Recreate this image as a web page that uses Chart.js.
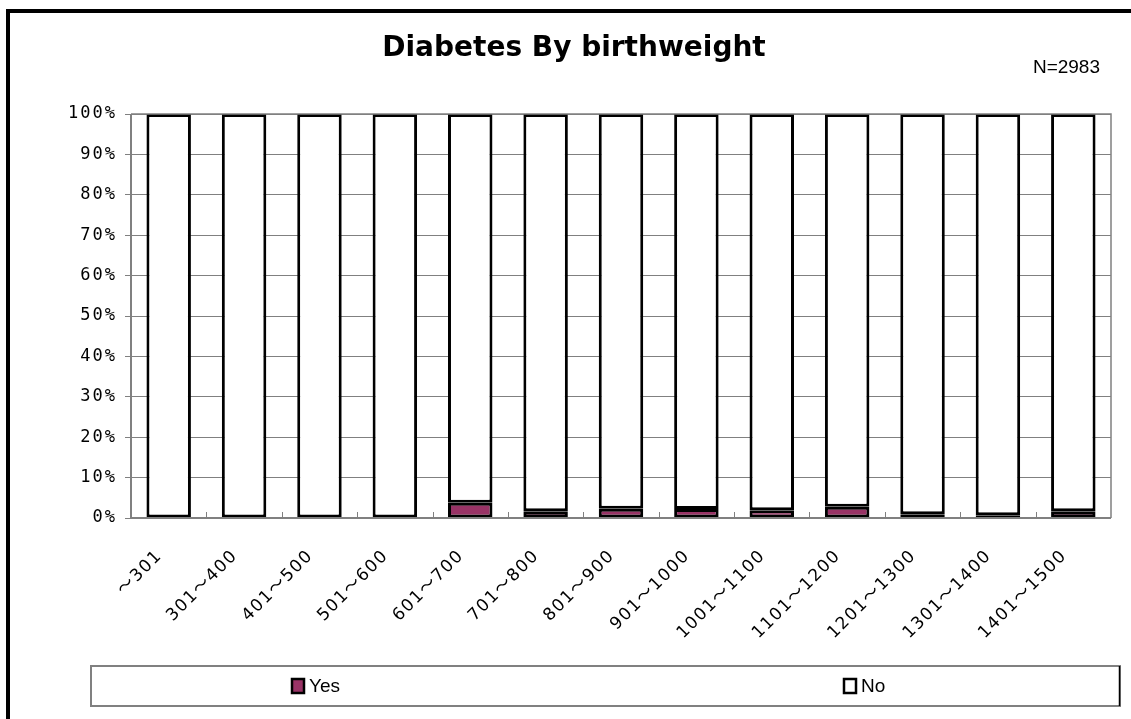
<!DOCTYPE html>
<html><head><meta charset="utf-8">
<script src="https://cdn.jsdelivr.net/npm/chart.js@4.4.1/dist/chart.umd.min.js"></script>
<style>html,body{margin:0;padding:0;background:#fff;}#wrap{width:1131px;height:719px;position:relative;}</style>
</head><body><div id="wrap"><canvas id="c" width="1131" height="719"></canvas></div>
<script>
const categories = ['～301','301～400','401～500','501～600','601～700','701～800','801～900','901～1000','1001～1100','1101～1200','1201～1300','1301～1400','1401～1500'];
const yesValues = [0,0,0,0,3.8,1.7,2.3,2.2,1.9,2.8,0.9,0.7,1.7];
const noValues = [100,100,100,100,96.2,98.3,97.7,97.8,98.1,97.2,99.1,99.3,98.3];
const yTicks = [0,10,20,30,40,50,60,70,80,90,100];
const titleText = 'Diabetes By birthweight';
const noteText = 'N=2983';

function spaced(scale, px){
  const orig = Object.getPrototypeOf(scale).drawLabels;
  scale.drawLabels = function(ca){
    this.ctx.save(); this.ctx.letterSpacing = px; orig.call(this, ca); this.ctx.restore();
  };
}

const decor = {
  id:'decor',
  beforeDraw(chart){
    const ctx = chart.ctx;
    ctx.save();
    ctx.fillStyle='#fff'; ctx.fillRect(0,0,chart.width,chart.height);
    ctx.fillStyle='#000';
    ctx.fillRect(6,9,chart.width-6,4);
    ctx.fillRect(6,9,4,chart.height-9);
    ctx.restore();
  },
  afterDatasetsDraw(chart){
    const ctx = chart.ctx, a = chart.chartArea, x = chart.scales.x;
    ctx.save();
    ctx.strokeStyle='#808080'; ctx.lineWidth=1.5;
    ctx.beginPath(); ctx.moveTo(a.left, a.top); ctx.lineTo(a.right, a.top); ctx.lineTo(a.right, a.bottom); ctx.stroke();
    ctx.lineWidth=2;
    ctx.beginPath(); ctx.moveTo(a.left, a.top); ctx.lineTo(a.left, a.bottom); ctx.lineTo(a.right, a.bottom); ctx.stroke();
    ctx.lineWidth=1;
    ctx.beginPath();
    for(let i=1;i<categories.length;i++){
      const px = (x.getPixelForValue(i-1)+x.getPixelForValue(i))/2;
      ctx.moveTo(Math.round(px)+0.5, a.bottom); ctx.lineTo(Math.round(px)+0.5, a.bottom-6);
    }
    ctx.stroke();
    // title
    ctx.fillStyle='#000'; ctx.textAlign='center'; ctx.textBaseline='middle';
    ctx.font='bold 28px "DejaVu Sans", sans-serif';
    ctx.fillText(titleText, 574, 49);
    ctx.font='19px "Liberation Sans", Arial, sans-serif';
    ctx.textAlign='right';
    ctx.fillText(noteText, 1100, 68);
    // legend
    ctx.strokeStyle='#808080'; ctx.lineWidth=2;
    ctx.strokeRect(91, 666, 1029, 40);
    ctx.strokeStyle='#000'; ctx.lineWidth=1.5;
    ctx.beginPath(); ctx.moveTo(1119.5,666); ctx.lineTo(1119.5,706); ctx.stroke();
    const items = [{x:292, ds:chart.data.datasets[0]},{x:844, ds:chart.data.datasets[1]}];
    ctx.font='19px "Liberation Sans Narrow", "Liberation Sans", Arial, sans-serif';
    ctx.textAlign='left';
    items.forEach(it=>{
      ctx.fillStyle=it.ds.backgroundColor;
      ctx.fillRect(it.x, 679, 12, 14);
      ctx.strokeStyle='#000'; ctx.lineWidth=2.5;
      ctx.strokeRect(it.x, 679, 12, 14);
      ctx.fillStyle='#000';
      ctx.fillText(it.ds.label, it.x+17, 687);
    });
    ctx.restore();
  }
};

new Chart(document.getElementById('c'), {
  type:'bar',
  data:{
    labels: categories,
    datasets:[
      {label:'Yes', data:yesValues, backgroundColor:'#993366', borderColor:'#000', borderWidth:3, borderSkipped:false, barPercentage:0.59, categoryPercentage:1},
      {label:'No', data:noValues, backgroundColor:'#ffffff', borderColor:'#000', borderWidth:3, borderSkipped:false, barPercentage:0.59, categoryPercentage:1}
    ]
  },
  options:{
    responsive:false, animation:false, devicePixelRatio:1,
    layout:{padding:{left:0, right:20, top:114, bottom:0}},
    plugins:{legend:{display:false}, title:{display:false}, tooltip:{enabled:false}},
    scales:{
      x:{stacked:true,
        grid:{display:false},
        border:{display:false},
        ticks:{color:'#000', maxRotation:45, minRotation:45, padding:20, labelOffset:-9, autoSkip:false,
          font:{family:'"DejaVu Sans", "Noto Sans CJK KR", sans-serif', size:17}},
        afterFit(s){ s.height = 201; spaced(s,'1.5px'); }
      },
      y:{stacked:true, min:0, max:100,
        afterBuildTicks(s){ s.ticks = yTicks.map(v=>({value:v})); },
        grid:{color:'#808080', lineWidth:1, drawTicks:true, tickLength:6},
        border:{display:false},
        ticks:{color:'#000', padding:8, callback:v=>v+'%',
          font:{family:'"DejaVu Sans Mono", monospace', size:17}},
        afterFit(s){ s.width = 131; spaced(s,'2px'); }
      }
    }
  },
  plugins:[decor]
});
</script></body></html>
